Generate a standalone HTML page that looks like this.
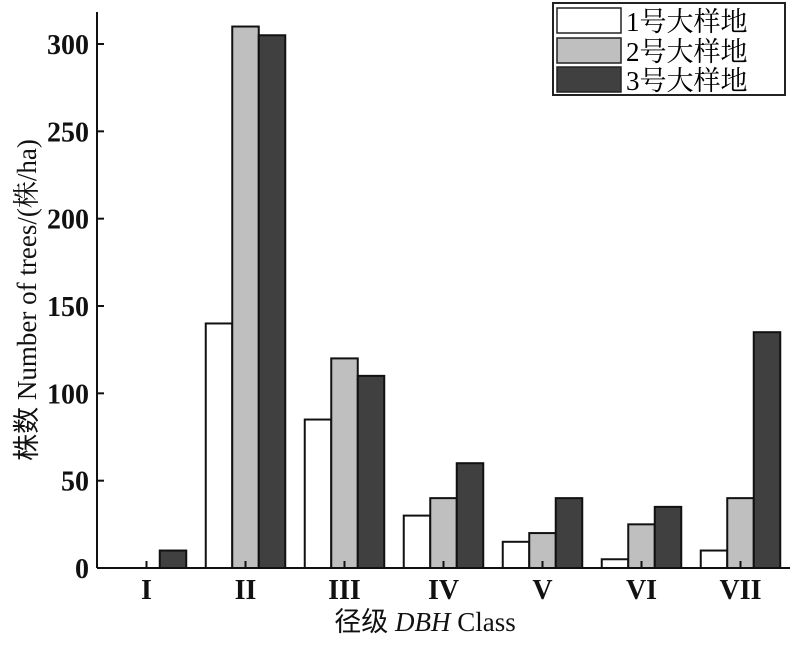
<!DOCTYPE html>
<html><head><meta charset="utf-8">
<style>
body{margin:0;background:#fff;}
svg text{font-family:"Liberation Serif","Noto Serif CJK SC",serif;}
</style></head>
<body>
<svg id="chart" width="790" height="640" viewBox="0 0 790 640" xmlns="http://www.w3.org/2000/svg">
<g id="plot"></g>
<text transform="translate(36,300) rotate(-90)" text-anchor="middle" font-size="27" fill="#111"><tspan font-family="Noto Sans CJK SC, sans-serif">株数</tspan> Number of trees/(株/ha)</text>
<text x="425" y="631" text-anchor="middle" font-size="27" fill="#111"><tspan font-family="Noto Sans CJK SC, sans-serif">径级</tspan>  <tspan font-style="italic">DBH</tspan> Class</text>
<g>
<rect x="553" y="3" width="232" height="92" fill="#fff" stroke="#222" stroke-width="2"/>
<g><rect x="557" y="8" width="64" height="25" fill="#fff" stroke="#222" stroke-width="1.5"/><text x="626" y="31" font-size="27">1号大样地</text></g>
<g><rect x="557" y="38" width="64" height="25" fill="#bfbfbf" stroke="#222" stroke-width="1.5"/><text x="626" y="61" font-size="27">2号大样地</text></g>
<g><rect x="557" y="67" width="64" height="25" fill="#404040" stroke="#222" stroke-width="1.5"/><text x="626" y="90" font-size="27">3号大样地</text></g>
</g>
</svg>
<script>
const categories=["I","II","III","IV","V","VI","VII"];
const plot1=[0,140,85,30,15,5,10];
const plot2=[0,310,120,40,20,25,40];
const plot3=[10,305,110,60,40,35,135];
const yTicks=[0,50,100,150,200,250,300];
const fills=["#ffffff","#bfbfbf","#404040"];
const seriesNames=["plot-1","plot-2","plot-3"];
const NS="http://www.w3.org/2000/svg";
const g=document.getElementById('plot');
const x0=97,x1=790,y0=568,yTop=12;
const band=(x1-x0)/categories.length;
const y=v=>y0-v*(524/300);
const xc=i=>x0+band*(i+0.5);
const bw=26.5;
function mk(t,a){const e=document.createElementNS(NS,t);for(const k in a)e.setAttribute(k,a[k]);g.appendChild(e);return e;}
[plot1,plot2,plot3].forEach((s,si)=>{
  s.forEach((v,i)=>{
    if(v<=0)return;
    const cx=xc(i)+(si-1)*bw;
    const r=mk('rect',{x:cx-bw/2,y:y(v),width:bw,height:y0-y(v),fill:fills[si],stroke:'#111','stroke-width':2});
    
    
  });
});
const ya=mk('line',{x1:x0,y1:yTop,x2:x0,y2:y0,stroke:'#111','stroke-width':2});


const xa=mk('line',{x1:x0,y1:y0,x2:x1,y2:y0,stroke:'#111','stroke-width':2});


yTicks.forEach(t=>{
  const l=mk('line',{x1:x0,y1:y(t),x2:x0+7,y2:y(t),stroke:'#111','stroke-width':2});
  
  
  const tx=mk('text',{x:x0-8,y:y(t)+10,'text-anchor':'end','font-size':28,'font-weight':'bold',fill:'#111'});
  tx.textContent=t;
  
  
});
categories.forEach((c,i)=>{
  const l=mk('line',{x1:xc(i),y1:y0,x2:xc(i),y2:y0-7,stroke:'#111','stroke-width':2});
  
  
  const tx=mk('text',{x:xc(i),y:599,'text-anchor':'middle','font-size':28,'font-weight':'bold',fill:'#111'});
  tx.textContent=c;
  
  
});
</script>
</body></html>
